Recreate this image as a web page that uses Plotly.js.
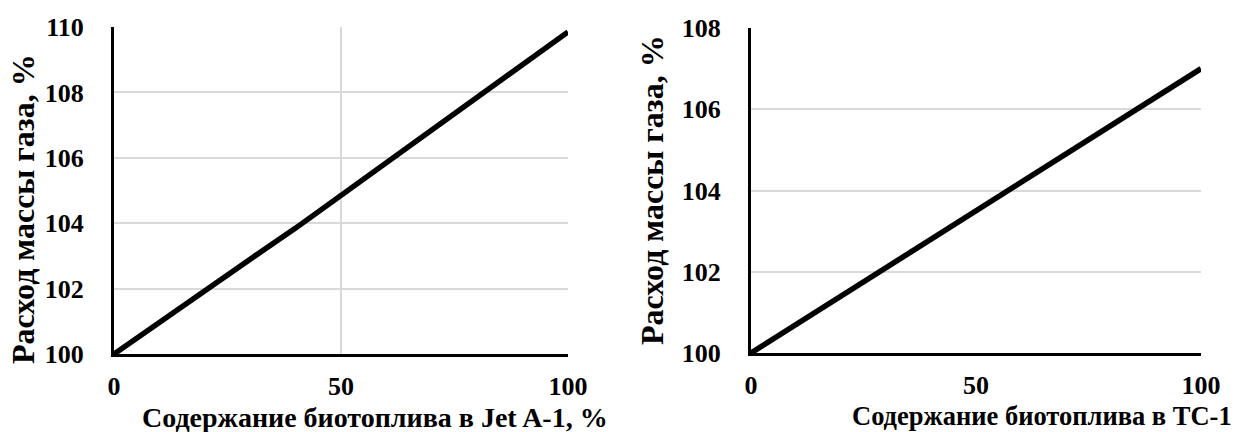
<!DOCTYPE html>
<html>
<head>
<meta charset="utf-8">
<script src="https://cdn.plot.ly/plotly-3.0.1.min.js"></script>
<style>
html,body{margin:0;padding:0;background:#fff;}
#chart{width:1235px;height:432px;}
</style>
</head>
<body>
<div id="chart"></div>
<script>
// Data
const bioShareJet = [0, 10, 20, 30, 40, 50, 60, 70, 80, 90, 100];
const gasFlowJet = [100, 100.98, 101.95, 102.9, 103.85, 104.85, 105.85, 106.85, 107.9, 108.88, 109.85];
const bioShareTC = [0, 10, 20, 30, 40, 50, 60, 70, 80, 90, 100];
const gasFlowTC = [100, 100.7, 101.4, 102.1, 102.8, 103.5, 104.2, 104.9, 105.6, 106.3, 107.0];
const xTicks = [0, 50, 100];
const yTicksJet = [100, 102, 104, 106, 108, 110];
const yTicksTC = [100, 102, 104, 106, 108];
const yTitle = 'Расход массы газа, %';
const xTitleJet = 'Содержание биотоплива в Jet A-1, %';
const xTitleTC = 'Содержание биотоплива в ТС-1';

const W = 1235, H = 432;
const px = x => x / W;
const py = y => 1 - y / H;
const FONT = 'Liberation Serif';
const tickFont = {family: FONT, size: 26, color: '#000', weight: 700};
const xTitleFontL = {family: FONT, size: 28, color: '#000', weight: 700};
const xTitleFontR = {family: FONT, size: 26.5, color: '#000', weight: 700};
const yTitleFont = {family: FONT, size: 32, color: '#000', weight: 700};
const bold = v => '<b>' + v + '</b>';

const traces = [
  {x: bioShareJet, y: gasFlowJet, xaxis: 'x', yaxis: 'y', mode: 'lines',
   line: {color: '#000', width: 5.5}, hoverinfo: 'skip', showlegend: false},
  {x: bioShareTC, y: gasFlowTC, xaxis: 'x2', yaxis: 'y2', mode: 'lines',
   line: {color: '#000', width: 5.5}, hoverinfo: 'skip', showlegend: false}
];

function xa(domain, grid) {
  return {
    domain: domain, range: [0, 100], tickvals: xTicks, ticktext: xTicks.map(bold),
    showgrid: grid, gridcolor: '#d9d9d9', gridwidth: 2,
    showline: true, linecolor: '#000', linewidth: 3,
    zeroline: false, ticks: 'outside', ticklen: 7, tickcolor: 'rgba(0,0,0,0)',
    tickfont: Object.assign({}, tickFont), fixedrange: true
  };
}
function ya(domain, range, ticks, anchor) {
  return {
    domain: domain, range: range, tickvals: ticks, ticktext: ticks.map(bold),
    showgrid: true, gridcolor: '#d9d9d9', gridwidth: 2,
    showline: true, linecolor: '#000', linewidth: 3,
    zeroline: false, ticks: 'outside', ticklen: 22, tickcolor: 'rgba(0,0,0,0)',
    tickfont: Object.assign({}, tickFont), fixedrange: true, anchor: anchor
  };
}

const layout = {
  width: W, height: H,
  margin: {l: 0, r: 0, t: 0, b: 0},
  font: {family: FONT, color: '#000'},
  paper_bgcolor: '#fff', plot_bgcolor: '#fff',
  showlegend: false,
  xaxis: Object.assign(xa([px(114), px(568)], true), {anchor: 'y'}),
  yaxis: ya([py(354), py(27)], [100, 110], yTicksJet, 'x'),
  xaxis2: Object.assign(xa([px(751), px(1201)], false), {anchor: 'y2'}),
  yaxis2: ya([py(353), py(28)], [100, 108], yTicksTC, 'x2'),
  annotations: [
    {text: xTitleJet, xref: 'paper', yref: 'paper', x: px(375), y: py(417),
     xanchor: 'center', yanchor: 'middle', showarrow: false, font: xTitleFontL},
    {text: xTitleTC, xref: 'paper', yref: 'paper', x: px(1042), y: py(415.5),
     xanchor: 'center', yanchor: 'middle', showarrow: false, font: xTitleFontR},
    {text: yTitle, xref: 'paper', yref: 'paper', x: px(23), y: py(209), textangle: -90,
     xanchor: 'center', yanchor: 'middle', showarrow: false, font: yTitleFont},
    {text: yTitle, xref: 'paper', yref: 'paper', x: px(652), y: py(190), textangle: -90,
     xanchor: 'center', yanchor: 'middle', showarrow: false, font: yTitleFont}
  ]
};

Plotly.newPlot('chart', traces, layout, {staticPlot: true, displayModeBar: false});
</script>
</body>
</html>
